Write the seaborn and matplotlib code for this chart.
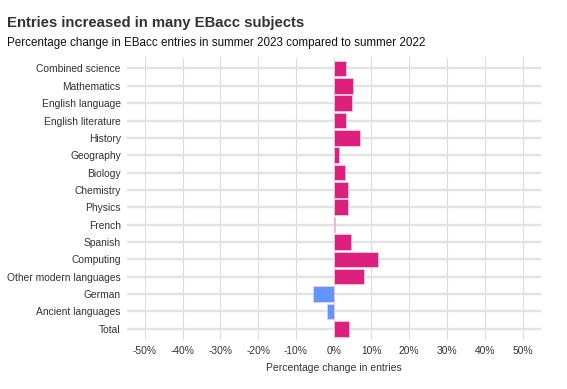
import numpy as np
import pandas as pd
import matplotlib
matplotlib.use('Agg')
import matplotlib.pyplot as plt
import seaborn as sns

subjects = ['Combined science', 'Mathematics', 'English language', 'English literature',
            'History', 'Geography', 'Biology', 'Chemistry', 'Physics', 'French',
            'Spanish', 'Computing', 'Other modern languages', 'German',
            'Ancient languages', 'Total']
pct_change = [3.2, 5.0, 4.8, 3.3, 6.9, 1.3, 3.1, 3.8, 3.7, 0.35,
              4.5, 11.8, 8.0, -5.6, -1.9, 4.0]
x_ticks = [-50, -40, -30, -20, -10, 0, 10, 20, 30, 40, 50]

df = pd.DataFrame({'subject': subjects, 'change': pct_change})
df['direction'] = np.where(df['change'] >= 0, 'up', 'down')

sns.set_style('white')
plt.rcParams['font.family'] = ['Liberation Sans', 'DejaVu Sans']

fig = plt.figure(figsize=(5.67, 3.89), dpi=100)
ax = fig.add_axes([0.224, 0.126, 0.731, 0.727])

# grid first so bars sit on top
for t in x_ticks:
    ax.axvline(t, color='#dcdcdc', lw=0.8, zorder=0)
for i in range(len(subjects)):
    ax.axhline(i, color='#e3e3e3', lw=1.7, zorder=0)

sns.barplot(data=df, y='subject', x='change', hue='direction',
            palette={'up': '#dd207e', 'down': '#6495fc'}, dodge=False, saturation=1,
            width=0.9, edgecolor='#f7d0e2', linewidth=0.5, legend=False, ax=ax, zorder=2)

ax.set_xlim(-54.7, 55)
ax.set_ylim(len(subjects) - 0.35, -0.65)
ax.set_xticks(x_ticks)
ax.set_xticklabels([f'{t}%' for t in x_ticks])
ax.tick_params(axis='both', labelsize=7.4, colors='#cccccc', labelcolor='#333333',
               length=2.5, width=0.8, pad=2)
for s in ax.spines.values():
    s.set_visible(False)
ax.set_ylabel('')
ax.set_xlabel('Percentage change in entries', fontsize=7.5, color='#333333', labelpad=5)

fig.text(0.013, 0.94, 'Entries increased in many EBacc subjects', fontsize=10.7,
         fontweight='bold', color='#333333', va='center')
fig.text(0.013, 0.89, 'Percentage change in EBacc entries in summer 2023 compared to summer 2022',
         fontsize=8.4, color='#111111', va='center')

fig.savefig('out.png', dpi=100)
